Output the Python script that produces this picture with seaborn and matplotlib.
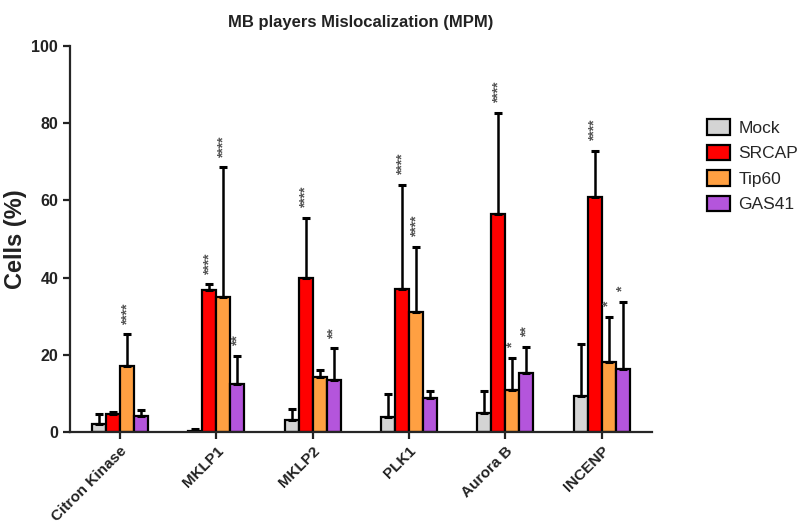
import pandas as pd
import matplotlib
matplotlib.use("Agg")
import matplotlib.pyplot as plt
import seaborn as sns

# Datos
categorias = ["Citron Kinase", "MKLP1", "MKLP2", "PLK1", "Aurora B", "INCENP"]
grupos = ["Mock", "SRCAP", "Tip60", "GAS41"]

mock = [2.0, 0.3, 3.1, 4.0, 4.8, 9.2]
srcap = [4.7, 36.8, 39.8, 37.0, 56.6, 61.0]
tip60 = [17.2, 35.0, 14.3, 31.2, 11.0, 18.2]
gas41 = [4.2, 12.4, 13.5, 8.9, 15.2, 16.3]

# extremo superior de la barra de error
mock_top = [4.6, 0.8, 5.9, 9.8, 10.7, 22.7]
srcap_top = [5.3, 38.3, 55.5, 64.0, 82.7, 72.8]
tip60_top = [25.3, 68.6, 16.1, 48.0, 19.3, 29.9]
gas41_top = [5.7, 19.7, 21.7, 10.6, 22.1, 33.8]

# significancia
mock_sig = ["", "", "", "", "", ""]
srcap_sig = ["", "****", "****", "****", "****", "****"]
tip60_sig = ["****", "****", "", "****", "*", "*"]
gas41_sig = ["", "**", "**", "", "**", "*"]

colores = ["#d4d4d4", "#ff0000", "#ffa042", "#b455dc"]

valores = [mock, srcap, tip60, gas41]
tops = [mock_top, srcap_top, tip60_top, gas41_top]
sigs = [mock_sig, srcap_sig, tip60_sig, gas41_sig]

filas = []
for g, vals in zip(grupos, valores):
    for c, v in zip(categorias, vals):
        filas.append({"gen": c, "grupo": g, "valor": v})
df = pd.DataFrame(filas)

sns.set_style("ticks")
plt.rcParams["font.family"] = ["Liberation Sans", "DejaVu Sans"]

fig = plt.figure(figsize=(8.08, 5.23), dpi=100)
ax = fig.add_axes([0.0866, 0.174, 0.72, 0.738])

sns.barplot(data=df, x="gen", y="valor", hue="grupo", palette=colores,
            saturation=1, width=0.58, edgecolor="black", linewidth=1.6,
            errorbar=None, ax=ax, legend=True)

# barras de error (solo hacia arriba) y asteriscos
for cont, top, sig, vals in zip(ax.containers, tops, sigs, valores):
    for bar, t, s, v in zip(cont, top, sig, vals):
        xc = bar.get_x() + bar.get_width() / 2
        ax.errorbar(xc, v, yerr=[[0], [t - v]], fmt="none", ecolor="black",
                    elinewidth=1.8, capsize=3, capthick=2.2, zorder=1)
        if s:
            ax.text(xc, t + 2.5, s, rotation=90, ha="center", va="bottom",
                    fontsize=10, fontweight="bold", color="#555555")

ax.set_ylim(0, 100)
ax.set_xlim(-0.52, 5.52)
ax.set_yticks([0, 20, 40, 60, 80, 100])
ax.set_xlabel("")
ax.set_ylabel("Cells (%)", fontsize=17, fontweight="bold", color="#222222", labelpad=3)
ax.set_title("MB players Mislocalization (MPM)", fontsize=12, fontweight="bold",
             color="#222222", pad=14)

ax.tick_params(axis="both", width=1.6, length=5, colors="#222222")
for lbl in ax.get_yticklabels():
    lbl.set_fontweight("bold")
    lbl.set_fontsize(11.5)
for lbl in ax.get_xticklabels():
    lbl.set_fontweight("bold")
    lbl.set_fontsize(11)
    lbl.set_rotation(45)
    lbl.set_ha("right")
    lbl.set_rotation_mode("anchor")

sns.despine(ax=ax)
ax.spines["left"].set_linewidth(1.6)
ax.spines["bottom"].set_linewidth(1.6)

leg = ax.legend(loc="upper left", bbox_to_anchor=(1.095, 0.81), frameon=False,
                fontsize=12.5, handlelength=1.3, handleheight=1.0,
                handletextpad=0.5, labelspacing=0.5, borderpad=0,
                borderaxespad=0)
for h in leg.legend_handles:
    h.set_edgecolor("black")
    h.set_linewidth(1.6)

plt.savefig("out.png", dpi=100)
